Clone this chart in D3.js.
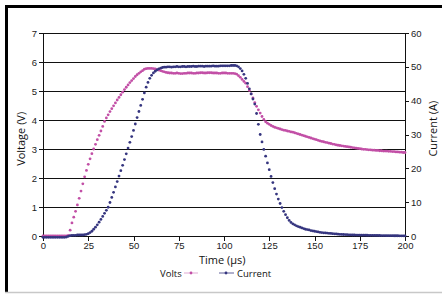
<!DOCTYPE html>
<html>
<head>
<meta charset="utf-8">
<script src="https://cdn.jsdelivr.net/npm/d3@7"></script>
<style>
  body { margin: 0; background: #fff; }
  svg { display: block; font-family: "Open Sans", sans-serif; }
  .axis text { font-size: 9.5px; fill: #222; }
  .axis path, .axis line { stroke: #111; shape-rendering: crispEdges; }
</style>
</head>
<body>
<svg id="chart" width="442" height="294"></svg>
<script>
// time in µs, one sample per µs
var time = d3.range(0, 201);

// Voltage (V)
var volts = [
  0,0,0,0,0,0,0,0,0,0,
  0,0,0,0,0.02,0.2,0.45,0.65,0.85,1.07,
  1.3,1.55,1.8,2.04,2.26,2.47,2.66,2.84,3.0,3.16,
  3.32,3.47,3.62,3.78,3.95,4.07,4.18,4.29,4.39,4.49,
  4.59,4.69,4.78,4.87,4.96,5.05,5.13,5.21,5.29,5.36,
  5.43,5.5,5.56,5.61,5.66,5.7,5.75,5.77,5.78,5.78,
  5.78,5.77,5.76,5.74,5.72,5.7,5.68,5.66,5.64,5.63,
  5.62,5.62,5.61,5.61,5.62,5.61,5.6,5.6,5.61,5.61,
  5.62,5.62,5.62,5.61,5.61,5.62,5.62,5.63,5.63,5.62,
  5.62,5.63,5.63,5.63,5.62,5.62,5.62,5.61,5.61,5.62,
  5.62,5.62,5.61,5.61,5.61,5.61,5.6,5.58,5.53,5.47,
  5.4,5.33,5.27,5.15,5.02,4.9,4.76,4.6,4.47,4.35,
  4.24,4.12,4.02,3.94,3.89,3.85,3.81,3.78,3.75,3.73,
  3.71,3.69,3.67,3.65,3.64,3.62,3.61,3.59,3.58,3.56,
  3.54,3.52,3.5,3.48,3.46,3.44,3.42,3.4,3.38,3.36,
  3.34,3.32,3.3,3.28,3.26,3.25,3.23,3.22,3.2,3.19,
  3.17,3.16,3.14,3.13,3.12,3.11,3.1,3.09,3.08,3.07,
  3.06,3.05,3.04,3.03,3.02,3.01,3.0,2.99,2.99,2.98,
  2.97,2.97,2.96,2.96,2.95,2.95,2.94,2.94,2.93,2.93,
  2.93,2.92,2.92,2.91,2.91,2.9,2.9,2.89,2.89,2.88,
  2.88
];

// Current (A)
var current = [
  -0.4,-0.4,-0.4,-0.4,-0.4,-0.4,-0.4,-0.4,-0.4,-0.4,
  -0.4,-0.4,-0.4,-0.3,-0.1,0.1,0.2,0.2,0.2,0.3,
  0.3,0.3,0.3,0.4,0.5,0.7,1.0,1.4,2.0,2.6,
  3.3,4.1,4.9,5.8,6.7,7.6,8.5,9.9,11.4,12.9,
  14.5,16.1,17.7,19.3,20.9,22.6,24.3,26.0,27.7,29.4,
  31.2,33.1,35.0,36.8,38.6,40.4,42.3,44.0,45.4,46.6,
  47.5,48.2,48.7,49.1,49.4,49.6,49.8,49.9,49.9,50.0,
  50.0,49.9,50.0,50.0,50.1,50.0,50.0,50.1,50.1,50.0,
  50.1,50.1,50.1,50.2,50.1,50.1,50.2,50.2,50.2,50.1,
  50.2,50.2,50.2,50.2,50.3,50.2,50.2,50.2,50.3,50.3,
  50.3,50.3,50.3,50.3,50.4,50.4,50.4,50.3,50.0,49.5,
  48.8,47.8,46.6,45.1,43.5,42.0,40.5,39.0,36.2,33.0,
  30.0,27.8,25.6,23.6,21.6,19.6,17.6,15.8,14.0,12.4,
  10.9,9.6,8.4,7.3,6.3,5.4,4.6,4.0,3.6,3.3,
  3.0,2.8,2.6,2.4,2.2,2.0,1.9,1.8,1.6,1.5,
  1.4,1.3,1.2,1.1,1.0,0.95,0.9,0.85,0.8,0.75,
  0.7,0.65,0.6,0.55,0.5,0.47,0.44,0.41,0.38,0.35,
  0.32,0.3,0.29,0.28,0.27,0.26,0.25,0.24,0.23,0.22,
  0.21,0.2,0.19,0.18,0.17,0.16,0.15,0.14,0.13,0.12,
  0.11,0.1,0.1,0.09,0.08,0.07,0.07,0.06,0.05,0.05,
  0.04
];

var xTicks = [0, 25, 50, 75, 100, 125, 150, 175, 200];
var voltTicks = [0, 1, 2, 3, 4, 5, 6, 7];
var ampTicks = [0, 10, 20, 30, 40, 50, 60];

var voltColor = "#c24fa6",
    ampColor = "#35357f";

var margin = {top: 33, right: 37, bottom: 58, left: 43};

var svg = d3.select("#chart"),
    width = +svg.attr("width") - margin.left - margin.right,
    height = +svg.attr("height") - margin.top - margin.bottom;

// frame
svg.append("line").attr("x1", 5).attr("x2", 442).attr("y1", 6.5).attr("y2", 6.5)
    .attr("stroke", "#000").attr("stroke-width", 3);
svg.append("line").attr("x1", 6.5).attr("x2", 6.5).attr("y1", 5).attr("y2", 293)
    .attr("stroke", "#000").attr("stroke-width", 3);
svg.append("line").attr("x1", 5).attr("x2", 442).attr("y1", 292.5).attr("y2", 292.5)
    .attr("stroke", "#c8c8c8").attr("stroke-width", 1.5);

var g = svg.append("g")
    .attr("transform", "translate(" + margin.left + "," + margin.top + ")");

var x = d3.scaleLinear().domain([0, 200]).range([0, width]);
var yV = d3.scaleLinear().domain([0, 7]).range([height, 0]);
var yA = d3.scaleLinear().domain([0, 60]).range([height, 0]);

// gridlines
g.append("g").selectAll("line")
    .data(voltTicks.filter(function(d) { return d > 0; }))
    .enter().append("line")
    .attr("x1", 0).attr("x2", width)
    .attr("y1", function(d) { return Math.round(yV(d)) + 0.5; })
    .attr("y2", function(d) { return Math.round(yV(d)) + 0.5; })
    .attr("stroke", "#111").attr("stroke-width", 1);

// axes
g.append("g").attr("class", "axis")
    .call(d3.axisLeft(yV).tickValues(voltTicks).tickFormat(d3.format("d"))
        .tickSize(4).tickPadding(2).tickSizeOuter(0));

g.append("g").attr("class", "axis")
    .attr("transform", "translate(" + width + ",0)")
    .call(d3.axisRight(yA).tickValues(ampTicks).tickFormat(d3.format("d"))
        .tickSize(4).tickPadding(2).tickSizeOuter(0));

g.append("g").attr("class", "axis")
    .attr("transform", "translate(0," + height + ")")
    .call(d3.axisBottom(x).tickValues(xTicks).tickFormat(d3.format("d"))
        .tickSize(5).tickPadding(1).tickSizeOuter(0));

// axis titles
g.append("text")
    .attr("transform", "translate(-18," + (yV(3.35)) + ") rotate(-90)")
    .attr("text-anchor", "middle")
    .style("font-size", "11px").attr("fill", "#111")
    .text("Voltage (V)");

g.append("text")
    .attr("transform", "translate(" + (width + 32) + "," + (yV(3.7)) + ") rotate(-90)")
    .attr("text-anchor", "middle")
    .style("font-size", "11px").attr("fill", "#111")
    .text("Current (A)");

g.append("text")
    .attr("x", x(99)).attr("y", height + 28)
    .attr("text-anchor", "middle")
    .style("font-size", "11px").attr("fill", "#111")
    .text("Time (µs)");

// series
var voltData = time.map(function(t, i) { return {t: t, v: volts[i]}; });
var ampData = time.map(function(t, i) { return {t: t, v: current[i]}; });

g.append("g").selectAll("circle")
    .data(voltData)
    .enter().append("circle")
    .attr("cx", function(d) { return x(d.t); })
    .attr("cy", function(d) { return yV(d.v); })
    .attr("r", 1.4)
    .attr("fill", voltColor);

g.append("g").selectAll("circle")
    .data(ampData)
    .enter().append("circle")
    .attr("cx", function(d) { return x(d.t); })
    .attr("cy", function(d) { return yA(d.v); })
    .attr("r", 1.4)
    .attr("fill", ampColor);

// legend
var legend = svg.append("g").attr("transform", "translate(0,273)");
legend.append("text").attr("x", 160).attr("y", 3.5)
    .style("font-size", "9.5px").attr("fill", "#111").text("Volts");
legend.append("line").attr("x1", 184).attr("x2", 198)
    .attr("stroke", voltColor).attr("stroke-width", 0.8).attr("opacity", 0.6);
legend.append("circle").attr("cx", 191).attr("r", 1.4).attr("fill", voltColor);
legend.append("line").attr("x1", 219).attr("x2", 234)
    .attr("stroke", ampColor).attr("stroke-width", 0.8);
legend.append("circle").attr("cx", 226).attr("r", 1.4).attr("fill", ampColor);
legend.append("text").attr("x", 237).attr("y", 3.5)
    .style("font-size", "9.5px").attr("fill", "#111").text("Current");
</script>
</body>
</html>
